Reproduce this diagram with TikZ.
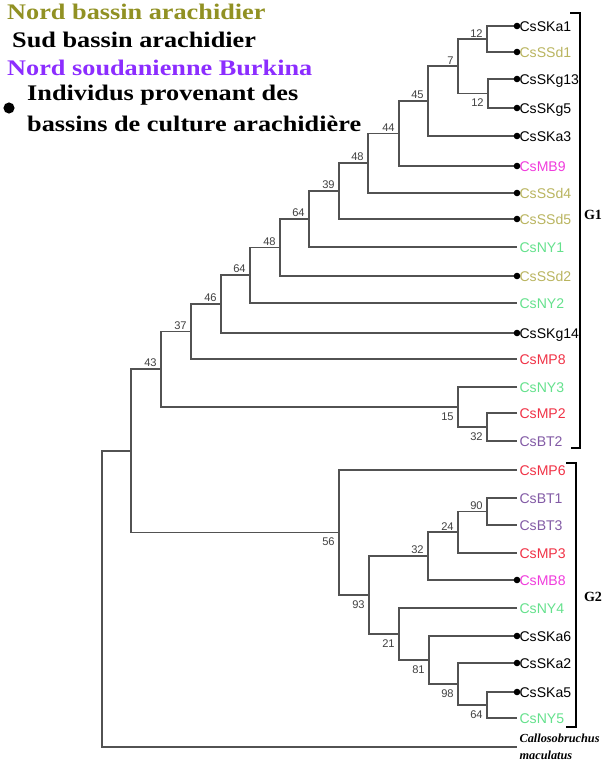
\documentclass[tikz,border=0pt]{standalone}
\usepackage{fontspec}
\setmainfont{Liberation Serif}
\setsansfont{Liberation Sans}
\usetikzlibrary{positioning}

\definecolor{olivelg}{RGB}{145,145,35}
\definecolor{olivetx}{RGB}{185,180,95}
\definecolor{purplelg}{RGB}{140,45,255}
\definecolor{purpletx}{RGB}{130,90,165}
\definecolor{redtx}{RGB}{240,50,70}
\definecolor{magtx}{RGB}{240,60,220}
\definecolor{greentx}{RGB}{100,225,140}

\newcommand{\widetxt}[1]{\scalebox{1.18}[1]{#1}}

\tikzset{
    branch/.style={line width=1.1pt, color=black!68},
    leaf/.style={anchor=west, inner sep=2pt, text height=8.6pt, text depth=0pt, font=\sffamily\fontsize{12}{14}\selectfont},
    bsnum/.style={font=\sffamily\fontsize{9.5}{11}\selectfont, text=black!75, inner sep=1.5pt},
    bsup/.style={label={[bsnum, xshift=-2pt]above left:#1}},
    bsdown/.style={label={[bsnum, xshift=-2pt, yshift=-3pt]below left:#1}},
    legend/.style={anchor=west, inner sep=0pt, font=\bfseries\fontsize{19}{23}\selectfont},
    groupname/.style={font=\bfseries\fontsize{12}{14}\selectfont},
    bracket/.style={line width=1.3pt, color=black},
}

\begin{document}
\begin{tikzpicture}[x=0.03cm, y=-0.03cm]
        \useasboundingbox (0,0) rectangle (611,765);

        %Legend
        \node[legend, text=olivelg] (nba) at (7,12) {\widetxt{Nord bassin arachidier}};
        \node[legend] (sba) at (12,40) {\widetxt{Sud bassin arachidier}};
        \node[legend, text=purplelg] (nsb) at (7,68) {\widetxt{Nord soudanienne Burkina}};
        \node[legend] (ind1) at (27,95) {\widetxt{Individus provenant des}};
        \node[legend] (ind2) at (27,124) {\widetxt{bassins de culture arachidi\`ere}};
        \node[circle, fill=black, inner sep=0pt, minimum width=8.5pt, minimum height=9.5pt] (ldot) at (9,108) {};

        %Leaves
        \foreach \nm/\yy/\cl in {CsSKa1/26/black, CsSSd1/52/olivetx, CsSKg13/79/black, CsSKg5/108/black,
            CsSKa3/136/black, CsMB9/166/magtx, CsSSd4/193/olivetx, CsSSd5/219/olivetx, CsNY1/247/greentx,
            CsSSd2/276/olivetx, CsNY2/303/greentx, CsSKg14/333/black, CsMP8/359/redtx, CsNY3/387/greentx,
            CsMP2/413/redtx, CsBT2/441/purpletx, CsMP6/470/redtx, CsBT1/498/purpletx, CsBT3/525/purpletx,
            CsMP3/553/redtx, CsMB8/580/magtx, CsNY4/608/greentx, CsSKa6/636/black, CsSKa2/663/black,
            CsSKa5/692/black, CsNY5/718/greentx} {
            \node[leaf, text=\cl] (\nm) at (517,\yy) {\nm};
        }
        \coordinate (out) at (517,747);
        \node[right=0pt of out, align=left, inner sep=2pt, font=\bfseries\itshape\fontsize{10.5}{15}\selectfont] (Cmac) {Callosobruchus\\maculatus};

        %Internal nodes, G1
        \coordinate[bsup=12] (b12a) at (487,39);
        \coordinate[bsdown=12] (b12b) at (488,93.5);
        \coordinate[bsup=7] (b7) at (458,66);
        \coordinate[bsup=45] (b45) at (428,101);
        \coordinate[bsup=44] (b44) at (399,133.5);
        \coordinate[bsup=48] (b48a) at (368,163);
        \coordinate[bsup=39] (b39) at (339,191);
        \coordinate[bsup=64] (b64a) at (309,219);
        \coordinate[bsup=48] (b48b) at (280,247.5);
        \coordinate[bsup=64] (b64b) at (250,275);
        \coordinate[bsup=46] (b46) at (221,304);
        \coordinate[bsup=37] (b37) at (191,331.5);
        \coordinate[bsdown=32] (b32a) at (487,427);
        \coordinate[bsdown=15] (b15) at (458,407);
        \coordinate[bsup=43] (b43) at (161,369);
        %Internal nodes, G2
        \coordinate[bsup=90] (b90) at (487,511.5);
        \coordinate[bsup=24] (b24) at (458,532);
        \coordinate[bsup=32] (b32b) at (428,556);
        \coordinate[bsdown=64] (b64c) at (487,705);
        \coordinate[bsdown=98] (b98) at (458,684);
        \coordinate[bsdown=81] (b81) at (429,660);
        \coordinate[bsdown=21] (b21) at (399,634);
        \coordinate[bsdown=93] (b93) at (369,595);
        \coordinate[bsdown=56] (b56) at (339,532.5);
        \coordinate (bG) at (131,451);
        \coordinate (broot) at (102,599);

        %Branches
        \draw[branch] (CsSKa1.west) -| (b12a) |- (CsSSd1.west);
        \draw[branch] (CsSKg13.west) -| (b12b) |- (CsSKg5.west);
        \draw[branch] (b12a) -| (b7) |- (b12b);
        \draw[branch] (b7) -| (b45) |- (CsSKa3.west);
        \draw[branch] (b45) -| (b44) |- (CsMB9.west);
        \draw[branch] (b44) -| (b48a) |- (CsSSd4.west);
        \draw[branch] (b48a) -| (b39) |- (CsSSd5.west);
        \draw[branch] (b39) -| (b64a) |- (CsNY1.west);
        \draw[branch] (b64a) -| (b48b) |- (CsSSd2.west);
        \draw[branch] (b48b) -| (b64b) |- (CsNY2.west);
        \draw[branch] (b64b) -| (b46) |- (CsSKg14.west);
        \draw[branch] (b46) -| (b37) |- (CsMP8.west);
        \draw[branch] (CsMP2.west) -| (b32a) |- (CsBT2.west);
        \draw[branch] (CsNY3.west) -| (b15) |- (b32a);
        \draw[branch] (b37) -| (b43) |- (b15);
        \draw[branch] (CsBT1.west) -| (b90) |- (CsBT3.west);
        \draw[branch] (b90) -| (b24) |- (CsMP3.west);
        \draw[branch] (b24) -| (b32b) |- (CsMB8.west);
        \draw[branch] (CsSKa5.west) -| (b64c) |- (CsNY5.west);
        \draw[branch] (CsSKa2.west) -| (b98) |- (b64c);
        \draw[branch] (CsSKa6.west) -| (b81) |- (b98);
        \draw[branch] (CsNY4.west) -| (b21) |- (b81);
        \draw[branch] (b32b) -| (b93) |- (b21);
        \draw[branch] (CsMP6.west) -| (b56) |- (b93);
        \draw[branch] (b43) -| (bG) |- (b56);
        \draw[branch] (bG) -| (broot) |- (out);

        %Dots for the peanut basin individuals
        \foreach \nm in {CsSKa1, CsSSd1, CsSKg13, CsSKg5, CsSKa3, CsMB9, CsSSd4, CsSSd5, CsSSd2, CsSKg14, CsMB8, CsSKa6, CsSKa2, CsSKa5} {
            \fill[black] (\nm.west) circle (2.8pt);
        }

        %Groups
        \node[groupname] (G1) at (593,215) {G1};
        \node[groupname] (G2) at (593,597) {G2};
        \draw[bracket] (570,13) -- (580,13) -- (580,448) -- (571,448);
        \draw[bracket] (566,463) -- (576,463) -- (576,727) -- (566,727);
\end{tikzpicture}
\end{document}
